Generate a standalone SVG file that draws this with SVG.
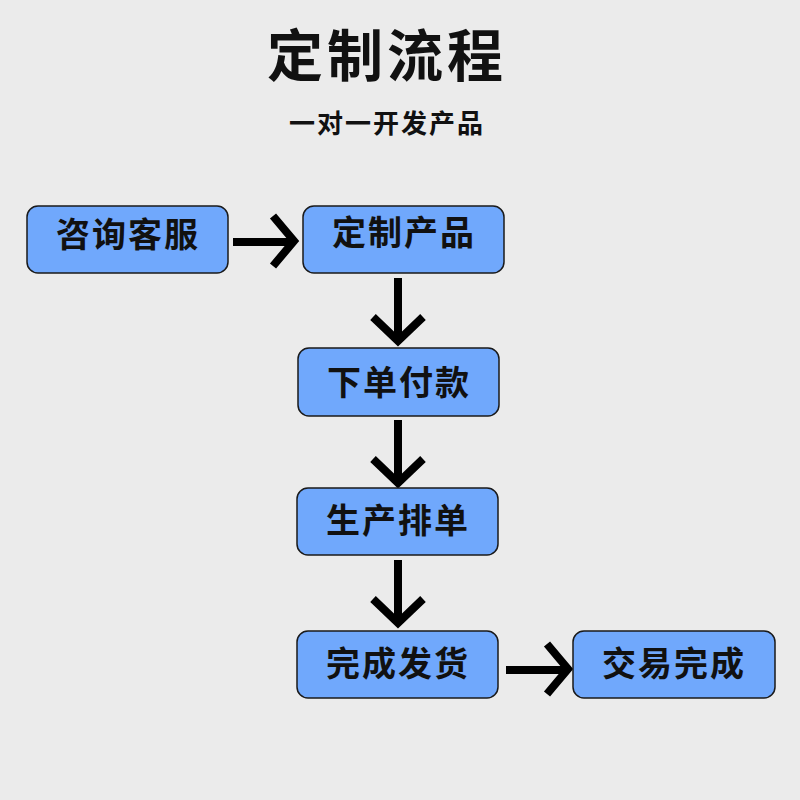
<svg xmlns="http://www.w3.org/2000/svg" width="800" height="800" viewBox="0 0 800 800">
<style>
.b{fill:#70a8fc;stroke:#1a1a1a;stroke-width:1.5}
.t{font-family:"Noto Sans CJK SC",sans-serif;font-weight:bold;font-size:34px;fill:#111;text-anchor:middle;letter-spacing:2px}
.a{fill:none;stroke:#000;stroke-width:8}
</style>
<rect width="800" height="800" fill="#ebebeb"/>
<text x="387" y="76" font-family="Noto Sans CJK SC,sans-serif" font-weight="bold" font-size="56" text-anchor="middle" fill="#111" letter-spacing="4">定制流程</text>
<text x="387" y="133" font-family="Noto Sans CJK SC,sans-serif" font-weight="bold" font-size="26" text-anchor="middle" fill="#111" letter-spacing="2">一对一开发产品</text>
<g id="connectors">
<path class="a" d="M233 242H292M273 216L294 241L273 266"/>
<path class="a" d="M398 278V340M373 317L398 341L423 317"/>
<path class="a" d="M398 420V482M373 459L398 483L423 459"/>
<path class="a" d="M398 560V622M373 599L398 623L423 599"/>
<path class="a" d="M506 670H566M547 644L568 669L547 694"/>
</g>
<g id="n1"><rect class="b" x="27" y="206" width="201" height="67" rx="11"/><text class="t" x="128" y="247">咨询客服</text></g>
<g id="n2"><rect class="b" x="303" y="206" width="201" height="67" rx="11"/><text class="t" x="404" y="245">定制产品</text></g>
<g id="n3"><rect class="b" x="298" y="348" width="201" height="68" rx="11"/><text class="t" x="399" y="395">下单付款</text></g>
<g id="n4"><rect class="b" x="297" y="488" width="201" height="67" rx="11"/><text class="t" x="398" y="533">生产排单</text></g>
<g id="n5"><rect class="b" x="297" y="631" width="201" height="67" rx="11"/><text class="t" x="398" y="676">完成发货</text></g>
<g id="n6"><rect class="b" x="573" y="631" width="202" height="67" rx="11"/><text class="t" x="674" y="676">交易完成</text></g>
</svg>
